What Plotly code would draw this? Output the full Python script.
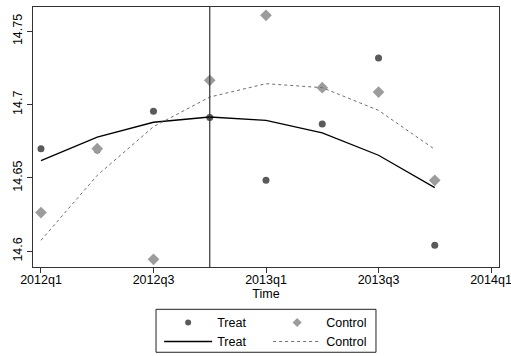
import plotly.graph_objects as go

# Quarterly periods (position = index in this list)
quarters = ["2012q1", "2012q2", "2012q3", "2012q4", "2013q1", "2013q2", "2013q3", "2013q4"]
tick_labels = ["2012q1", "2012q3", "2013q1", "2013q3", "2014q1"]
tick_pos = [0, 2, 4, 6, 8]
treatment_quarter = "2012q4"

# Observed group means
treat_obs = [14.670, 14.669, 14.6955, 14.6912, 14.6484, 14.6868, 14.7318, 14.6041]
control_obs = [14.6264, 14.670, 14.5945, 14.7166, 14.7609, 14.7116, 14.7086, 14.6484]

# Fitted trends
treat_fit = [14.6618, 14.6779, 14.6880, 14.6916, 14.6893, 14.6807, 14.6655, 14.6434]
control_fit = [14.6075, 14.6518, 14.6850, 14.7052, 14.7143, 14.7116, 14.6961, 14.6695]

x = list(range(len(quarters)))
FONT = "Liberation Sans, Arial, sans-serif"
TREAT_MK = "#5a5a5a"
CONTROL_MK = "#9c9c9c"

fig = go.Figure()
fig.add_trace(go.Scatter(
    x=x, y=treat_obs, mode="markers", showlegend=False,
    marker=dict(symbol="circle", size=7, color=TREAT_MK),
))
fig.add_trace(go.Scatter(
    x=x, y=control_obs, mode="markers", showlegend=False,
    marker=dict(symbol="diamond", size=9, color=CONTROL_MK),
))
fig.add_trace(go.Scatter(
    x=x, y=treat_fit, mode="lines", name="Treat", legend="legend2",
    line=dict(color="black", width=1.3),
))
fig.add_trace(go.Scatter(
    x=x, y=control_fit, mode="lines", name="Control", legend="legend2",
    line=dict(color="#6e6e6e", width=1, dash="3px,3px"),
))

# Legend keys for the observed means (smaller symbols than in the plot)
fig.add_trace(go.Scatter(
    x=[None], y=[None], mode="markers", name="Treat", legend="legend",
    marker=dict(symbol="circle", size=6, color=TREAT_MK),
))
fig.add_trace(go.Scatter(
    x=[None], y=[None], mode="markers", name="Control", legend="legend",
    marker=dict(symbol="diamond", size=7, color=CONTROL_MK),
))

# Treatment start marker
fig.add_shape(type="line", xref="x", yref="paper",
              x0=quarters.index(treatment_quarter), x1=quarters.index(treatment_quarter),
              y0=0, y1=1, line=dict(color="#333333", width=1.2))

# Box around the two-row legend
fig.add_shape(type="rect", xref="paper", yref="paper",
              x0=0.264, x1=0.736, y0=-0.328, y1=-0.1627,
              line=dict(color="#222222", width=1), fillcolor="rgba(0,0,0,0)")

axis_common = dict(showline=True, linecolor="#333333", linewidth=1.2, mirror=True,
                   ticks="outside", ticklen=5, tickcolor="#333333", showgrid=False,
                   zeroline=False, tickfont=dict(family=FONT, size=12.5, color="black"))

legend_common = dict(orientation="h", xref="paper", yref="paper", xanchor="left",
                     yanchor="middle", itemwidth=48, entrywidth=46,
                     font=dict(family=FONT, size=12.5, color="black"),
                     bgcolor="rgba(0,0,0,0)", borderwidth=0, tracegroupgap=0,
                     itemclick=False)

fig.update_layout(
    width=511, height=356,
    margin=dict(l=33, r=12, t=7, b=89, autoexpand=False),
    paper_bgcolor="white", plot_bgcolor="white",
    font=dict(family=FONT, size=12.5, color="black"),
    xaxis=dict(range=[-0.142, 8.142], tickvals=tick_pos, ticktext=tick_labels,
               ticklabeloverflow="allow", ticklabelstandoff=-4,
               title=dict(text="Time", standoff=0, font=dict(family=FONT, size=12.5)),
               **axis_common),
    yaxis=dict(range=[14.5893, 14.7666], tickvals=[14.6, 14.65, 14.7, 14.75],
               ticktext=["14.6", "14.65", "14.7", "14.75"], tickangle=-90,
               ticklabeloverflow="allow", **axis_common),
    legend=dict(x=0.2707, y=-0.215, **legend_common),
    legend2=dict(x=0.2707, y=-0.288, **legend_common),
    showlegend=True,
)

fig.write_html("out.html")
